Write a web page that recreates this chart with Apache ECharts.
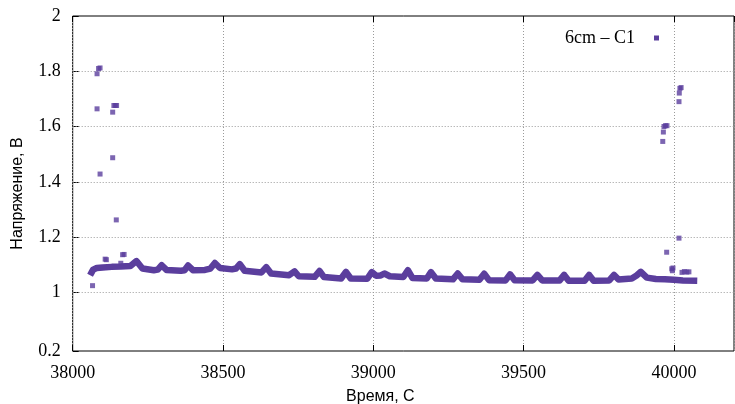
<!DOCTYPE html>
<html>
<head>
<meta charset="utf-8">
<script src="https://cdn.jsdelivr.net/npm/echarts@6/dist/echarts.min.js"></script>
<style>
  html, body { margin: 0; padding: 0; background: #fff; }
  #chart { width: 735px; height: 404px; }
</style>
</head>
<body>
<div id="chart"></div>
<script>
const seriesName = '6cm – C1';

// Steady part of the record: time (s) and voltage (V)
const bandTime = [
  38063, 38068, 38080, 38100, 38130, 38160, 38192, 38212, 38232, 38270,
  38283, 38296, 38312, 38360, 38372, 38384, 38400, 38440, 38458, 38473,
  38490, 38530, 38543, 38556, 38572, 38628, 38644, 38660, 38720, 38738,
  38752, 38805, 38821, 38836, 38893, 38909, 38925, 38980, 38995, 39010,
  39025, 39037, 39055, 39100, 39115, 39130, 39178, 39192, 39208, 39265,
  39281, 39297, 39353, 39369, 39385, 39440, 39455, 39470, 39530, 39546,
  39562, 39620, 39635, 39650, 39703, 39718, 39733, 39785, 39801, 39816,
  39860, 39876, 39890, 39910, 39940, 39970, 40000, 40030, 40067
];
const bandVolt = [
  1.072, 1.082, 1.088, 1.090, 1.092, 1.093, 1.095, 1.113, 1.086, 1.080,
  1.082, 1.098, 1.081, 1.078, 1.080, 1.097, 1.080, 1.081, 1.086, 1.106,
  1.088, 1.083, 1.086, 1.102, 1.078, 1.072, 1.091, 1.068, 1.062, 1.076,
  1.058, 1.056, 1.077, 1.055, 1.050, 1.074, 1.050, 1.049, 1.073, 1.060,
  1.061, 1.068, 1.058, 1.055, 1.080, 1.052, 1.050, 1.073, 1.050, 1.047,
  1.068, 1.047, 1.045, 1.067, 1.044, 1.043, 1.065, 1.044, 1.043, 1.063,
  1.043, 1.043, 1.063, 1.042, 1.042, 1.063, 1.042, 1.043, 1.063, 1.046,
  1.050, 1.061, 1.074, 1.053, 1.048, 1.047, 1.045, 1.043, 1.042
];

// Isolated readings at the start and the end of the run
const spikeTime = [
  38066, 38081, 38081, 38086, 38091, 38091, 38108, 38112, 38133, 38133,
  38137, 38142, 38146, 38145, 38160, 38166, 38171,
  39963, 39965, 39967, 39972, 39977, 39976, 39993, 39997, 39995,
  40017, 40018, 40020, 40024, 40017, 40027, 40035, 40043, 40050
];
const spikeVolt = [
  1.024, 1.664, 1.791, 1.810, 1.812, 1.428, 1.120, 1.118, 1.652, 1.487,
  1.676, 1.676, 1.676, 1.262, 1.105, 1.136, 1.137,
  1.546, 1.580, 1.600, 1.603, 1.603, 1.145, 1.085, 1.088, 1.078,
  1.690, 1.721, 1.738, 1.741, 1.196, 1.072, 1.075, 1.073, 1.074
];

// Axis ticks
const yTickValues = [0.7875, 1, 1.2, 1.4, 1.6, 1.8, 2];
const yTickLabels = ['0.2', '1', '1.2', '1.4', '1.6', '1.8', '2'];
const yGridValues = [1, 1.2, 1.4, 1.6, 1.8];
const xMin = 38000, xMax = 40200, xStep = 500;

const purple = '#5b3e9d';
const serif = '"Liberation Serif", "Times New Roman", serif';
const sans = '"Liberation Sans", Arial, sans-serif';
const gridDots = { color: '#9a9a9a', width: 1, type: [1, 2] };

const bandData = bandTime.map((t, i) => [t, bandVolt[i]]);
const spikeData = spikeTime.map((t, i) => [t, spikeVolt[i]]);

const chart = echarts.init(document.getElementById('chart'), null, { renderer: 'canvas' });

const xAxisBase = {
  type: 'value',
  min: xMin,
  max: xMax,
  interval: xStep,
  axisLine: { show: false },
  axisTick: { show: true, inside: true, length: 6, lineStyle: { color: '#000' } }
};

chart.setOption({
  animation: false,
  backgroundColor: '#fff',
  grid: {
    left: 72.7, right: 1, top: 16, bottom: 53,
    containLabel: false,
    outerBoundsMode: 'none',
    show: true, borderColor: '#000', borderWidth: 1, backgroundColor: 'transparent'
  },
  legend: {
    data: [{ name: seriesName, icon: 'rect' }],
    right: 71, top: 24,
    align: 'right',
    itemWidth: 5, itemHeight: 5,
    textStyle: { fontFamily: serif, fontSize: 18, color: '#000', padding: [0, 14, 0, 0] }
  },
  xAxis: [
    Object.assign({}, xAxisBase, {
      position: 'bottom',
      name: 'Время, С',
      nameLocation: 'middle',
      nameGap: 38,
      nameTextStyle: { fontFamily: sans, fontSize: 16, color: '#000', padding: [0, 46, 0, 0] },
      axisLabel: {
        fontFamily: serif, fontSize: 18, color: '#000', margin: 13, showMaxLabel: false,
        formatter: v => String(v)
      },
      splitLine: { show: true, lineStyle: gridDots }
    }),
    Object.assign({}, xAxisBase, {
      position: 'top',
      axisLabel: { show: false },
      splitLine: { show: false }
    })
  ],
  yAxis: {
    type: 'value',
    min: yTickValues[0],
    max: yTickValues[yTickValues.length - 1],
    name: 'Напряжение, В',
    nameLocation: 'middle',
    nameRotate: 90,
    nameGap: 47,
    nameTextStyle: { fontFamily: sans, fontSize: 16, color: '#000', padding: [0, 20, 0, 0] },
    axisLine: { show: false },
    axisTick: {
      show: true, inside: true, length: 6, lineStyle: { color: '#000' },
      customValues: yTickValues
    },
    axisLabel: {
      fontFamily: serif, fontSize: 18, color: '#000', margin: 12,
      customValues: yTickValues,
      formatter: v => {
        const k = yTickValues.findIndex(t => Math.abs(t - v) < 1e-6);
        return k >= 0 ? yTickLabels[k] : '';
      }
    },
    splitLine: { show: false }
  },
  series: [
    {
      name: seriesName,
      type: 'line',
      data: bandData,
      symbol: 'none',
      lineStyle: { color: purple, width: 6.5, join: 'round', cap: 'square' },
      itemStyle: { color: purple },
      markLine: {
        silent: true,
        symbol: 'none',
        label: { show: false },
        lineStyle: gridDots,
        z: 1,
        data: yGridValues.map(v => ({ yAxis: v }))
      },
      z: 3
    },
    {
      name: seriesName,
      type: 'scatter',
      data: spikeData,
      symbol: 'rect',
      symbolSize: 5,
      itemStyle: { color: purple },
      z: 4
    }
  ]
});
</script>
</body>
</html>
